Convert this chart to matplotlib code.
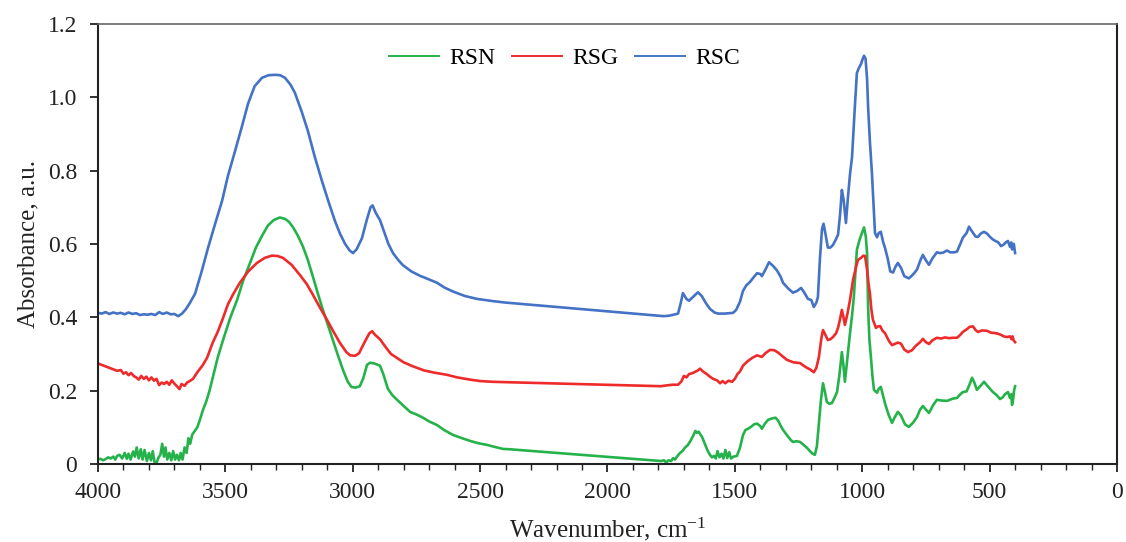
import numpy as np
import matplotlib
matplotlib.use("Agg")
import matplotlib.pyplot as plt
from matplotlib.ticker import MultipleLocator

plt.rcParams['font.family'] = ['Liberation Serif', 'DejaVu Serif']
plt.rcParams['mathtext.fontset'] = 'custom'
plt.rcParams['mathtext.rm'] = 'Liberation Serif'
plt.rcParams['mathtext.it'] = 'Liberation Serif:italic'

# RSC spectrum (wavenumber, absorbance)
rsc_wn = [4000, 3985, 3970, 3955, 3940, 3925, 3910, 3895, 3880, 3865, 3850, 3835, 3820, 3805,
          3790, 3775, 3760, 3745, 3730, 3715, 3700, 3685, 3670, 3655, 3640, 3619, 3595, 3568,
          3540, 3513, 3490, 3462, 3435, 3411, 3385, 3356, 3330, 3305, 3285, 3266, 3245, 3227,
          3200, 3176, 3150, 3121, 3095, 3070, 3050, 3030, 3012, 2999, 2985, 2964, 2945, 2930,
          2922, 2910, 2893, 2875, 2860, 2842, 2820, 2803, 2770, 2736, 2700, 2669, 2640, 2606,
          2560, 2512, 2450, 2400, 1780, 1760, 1740, 1723, 1712, 1704, 1690, 1680, 1665, 1645,
          1630, 1615, 1598, 1580, 1566, 1540, 1507, 1495, 1480, 1468, 1455, 1441, 1425, 1413,
          1400, 1394, 1380, 1366, 1350, 1335, 1320, 1311, 1290, 1272, 1255, 1240, 1228, 1213,
          1200, 1190, 1180, 1174, 1166, 1158, 1152, 1145, 1135, 1125, 1115, 1105, 1095, 1087,
          1080, 1073, 1064, 1056, 1048, 1040, 1029, 1021, 1013, 1005, 998, 993, 987, 981, 977,
          970, 962, 955, 950, 942, 935, 927, 918, 911, 900, 890, 879, 870, 860, 848, 835, 817,
          800, 785, 772, 762, 750, 738, 725, 707, 695, 683, 667, 655, 640, 628, 615, 605, 590,
          581, 572, 565, 555, 546, 535, 522, 510, 497, 487, 475, 467, 455, 445, 435, 428, 420,
          415, 412, 405, 400]
rsc_abs = [0.412, 0.410, 0.414, 0.409, 0.413, 0.410, 0.412, 0.408, 0.413, 0.409, 0.411, 0.406,
           0.408, 0.407, 0.409, 0.406, 0.414, 0.409, 0.413, 0.408, 0.409, 0.403, 0.410, 0.422,
           0.438, 0.464, 0.520, 0.589, 0.655, 0.717, 0.785, 0.853, 0.920, 0.982, 1.030, 1.053,
           1.060, 1.061, 1.060, 1.053, 1.035, 1.012, 0.960, 0.908, 0.840, 0.772, 0.715, 0.663,
           0.628, 0.600, 0.582, 0.575, 0.585, 0.615, 0.665, 0.700, 0.705, 0.685, 0.665, 0.630,
           0.600, 0.575, 0.555, 0.542, 0.525, 0.513, 0.503, 0.494, 0.481, 0.470, 0.458, 0.450,
           0.444, 0.440, 0.403, 0.404, 0.407, 0.410, 0.440, 0.466, 0.450, 0.445, 0.455, 0.468,
           0.458, 0.440, 0.423, 0.413, 0.410, 0.410, 0.412, 0.420, 0.442, 0.472, 0.487, 0.496,
           0.510, 0.520, 0.518, 0.512, 0.530, 0.550, 0.540, 0.528, 0.510, 0.494, 0.478, 0.467,
           0.472, 0.480, 0.468, 0.450, 0.447, 0.428, 0.440, 0.455, 0.560, 0.640, 0.655, 0.630,
           0.590, 0.590, 0.597, 0.610, 0.625, 0.680, 0.747, 0.720, 0.657, 0.728, 0.790, 0.837,
           0.974, 1.066, 1.080, 1.090, 1.105, 1.113, 1.105, 1.050, 0.974, 0.880, 0.794, 0.700,
           0.630, 0.618, 0.630, 0.633, 0.605, 0.590, 0.560, 0.525, 0.522, 0.537, 0.548, 0.535,
           0.512, 0.506, 0.517, 0.530, 0.555, 0.570, 0.555, 0.543, 0.560, 0.577, 0.575, 0.576,
           0.582, 0.577, 0.577, 0.579, 0.600, 0.617, 0.630, 0.647, 0.637, 0.630, 0.620, 0.619,
           0.628, 0.633, 0.628, 0.618, 0.612, 0.607, 0.605, 0.594, 0.598, 0.605, 0.608, 0.592,
           0.604, 0.585, 0.600, 0.575]

# RSG spectrum
rsg_wn = [4000, 3985, 3970, 3955, 3940, 3925, 3910, 3900, 3890, 3880, 3870, 3860, 3850, 3840,
          3830, 3820, 3810, 3800, 3790, 3780, 3770, 3760, 3750, 3740, 3730, 3720, 3710, 3700,
          3690, 3680, 3672, 3660, 3650, 3640, 3627, 3610, 3590, 3572, 3550, 3530, 3509, 3490,
          3470, 3443, 3410, 3376, 3345, 3317, 3295, 3274, 3240, 3207, 3180, 3156, 3130, 3101,
          3075, 3050, 3025, 3010, 2990, 2975, 2955, 2935, 2924, 2912, 2893, 2870, 2850, 2826,
          2800, 2763, 2720, 2680, 2630, 2590, 2540, 2500, 2450, 2400, 1790, 1770, 1745, 1723,
          1710, 1700, 1690, 1680, 1665, 1645, 1637, 1625, 1610, 1598, 1585, 1570, 1558, 1548,
          1538, 1525, 1511, 1500, 1490, 1480, 1468, 1450, 1430, 1413, 1394, 1380, 1362, 1345,
          1331, 1310, 1296, 1270, 1244, 1230, 1217, 1205, 1190, 1180, 1170, 1160, 1154, 1145,
          1135, 1125, 1115, 1103, 1095, 1087, 1080, 1073, 1068, 1058, 1048, 1036, 1025, 1017,
          1005, 995, 989, 981, 975, 970, 964, 958, 946, 938, 930, 920, 911, 895, 883, 870, 860,
          848, 835, 820, 805, 790, 773, 762, 750, 738, 725, 707, 690, 675, 660, 645, 628, 615,
          605, 590, 578, 565, 555, 546, 530, 510, 495, 480, 467, 455, 445, 432, 420, 414, 410,
          405, 400]
rsg_abs = [0.274, 0.270, 0.266, 0.262, 0.258, 0.254, 0.256, 0.246, 0.250, 0.242, 0.248, 0.240,
           0.236, 0.230, 0.240, 0.232, 0.238, 0.228, 0.236, 0.227, 0.232, 0.215, 0.222, 0.218,
           0.224, 0.216, 0.228, 0.219, 0.212, 0.204, 0.218, 0.213, 0.222, 0.226, 0.232, 0.250,
           0.268, 0.289, 0.330, 0.360, 0.398, 0.435, 0.462, 0.494, 0.525, 0.548, 0.562, 0.568,
           0.567, 0.562, 0.543, 0.515, 0.490, 0.461, 0.428, 0.393, 0.360, 0.330, 0.305, 0.296,
           0.295, 0.302, 0.330, 0.356, 0.362, 0.352, 0.340, 0.318, 0.300, 0.289, 0.277, 0.266,
           0.255, 0.249, 0.243, 0.236, 0.230, 0.226, 0.224, 0.223, 0.212, 0.214, 0.216, 0.216,
           0.225, 0.240, 0.236, 0.245, 0.248, 0.255, 0.260, 0.252, 0.245, 0.238, 0.232, 0.228,
           0.220, 0.226, 0.220, 0.227, 0.224, 0.232, 0.245, 0.252, 0.268, 0.280, 0.290, 0.296,
           0.292, 0.302, 0.311, 0.310, 0.304, 0.292, 0.284, 0.277, 0.275, 0.268, 0.262, 0.258,
           0.250, 0.262, 0.292, 0.345, 0.365, 0.352, 0.338, 0.340, 0.346, 0.356, 0.371, 0.395,
           0.420, 0.398, 0.379, 0.410, 0.447, 0.502, 0.535, 0.556, 0.562, 0.568, 0.567, 0.530,
           0.490, 0.466, 0.420, 0.393, 0.371, 0.375, 0.376, 0.363, 0.357, 0.335, 0.324, 0.328,
           0.331, 0.328, 0.312, 0.305, 0.310, 0.322, 0.332, 0.341, 0.332, 0.327, 0.337, 0.344,
           0.342, 0.345, 0.343, 0.344, 0.344, 0.352, 0.360, 0.367, 0.374, 0.375, 0.365, 0.360,
           0.364, 0.363, 0.358, 0.357, 0.355, 0.352, 0.348, 0.346, 0.348, 0.340, 0.348, 0.336,
           0.332]

# RSN spectrum
rsn_wn = [4000, 3990, 3980, 3970, 3960, 3950, 3940, 3932, 3925, 3915, 3905, 3895, 3887, 3880,
          3872, 3862, 3855, 3848, 3840, 3832, 3825, 3817, 3808, 3800, 3792, 3785, 3778, 3770,
          3762, 3755, 3748, 3741, 3735, 3728, 3720, 3712, 3705, 3697, 3690, 3682, 3675, 3668,
          3660, 3652, 3645, 3638, 3630, 3620, 3610, 3600, 3588, 3575, 3562, 3549, 3530, 3509,
          3480, 3454, 3430, 3403, 3380, 3356, 3333, 3310, 3286, 3265, 3250, 3235, 3215, 3195,
          3176, 3156, 3137, 3117, 3098, 3078, 3058, 3038, 3020, 3005, 2990, 2972, 2958, 2944,
          2932, 2915, 2893, 2880, 2862, 2845, 2826, 2800, 2775, 2750, 2724, 2700, 2669, 2640,
          2606, 2570, 2540, 2510, 2473, 2440, 2410, 2383, 1790, 1778, 1770, 1760, 1750, 1742,
          1735, 1725, 1715, 1705, 1695, 1684, 1675, 1665, 1655, 1649, 1642, 1635, 1629, 1618,
          1608, 1598, 1590, 1582, 1575, 1568, 1560, 1552, 1545, 1537, 1530, 1522, 1515, 1505,
          1492, 1480, 1468, 1458, 1448, 1435, 1425, 1413, 1400, 1394, 1382, 1370, 1355, 1340,
          1330, 1320, 1311, 1295, 1280, 1272, 1258, 1244, 1230, 1217, 1205, 1195, 1186, 1178,
          1170, 1162, 1154, 1146, 1139, 1129, 1119, 1109, 1099, 1090, 1080, 1074, 1068, 1058,
          1048, 1040, 1033, 1027, 1021, 1011, 1001, 993, 986, 981, 977, 972, 966, 960, 954, 942,
          935, 927, 918, 911, 897, 883, 872, 860, 848, 832, 817, 800, 785, 773, 762, 750, 738,
          722, 707, 690, 667, 645, 628, 615, 605, 590, 578, 569, 560, 550, 537, 522, 505, 487,
          473, 459, 448, 440, 428, 420, 415, 412, 408, 404, 400]
rsn_abs = [0.012, 0.014, 0.010, 0.013, 0.018, 0.015, 0.020, 0.012, 0.022, 0.025, 0.015, 0.030,
           0.014, 0.028, 0.012, 0.034, 0.020, 0.045, 0.015, 0.040, 0.012, 0.038, 0.008, 0.030,
           0.010, 0.035, 0.005, 0.003, 0.018, 0.025, 0.055, 0.020, 0.045, 0.012, 0.030, 0.010,
           0.035, 0.012, 0.025, 0.010, 0.030, 0.012, 0.045, 0.030, 0.070, 0.055, 0.080, 0.090,
           0.100, 0.120, 0.147, 0.170, 0.200, 0.237, 0.290, 0.338, 0.400, 0.447, 0.500, 0.548,
           0.590, 0.622, 0.650, 0.665, 0.672, 0.668, 0.660, 0.646, 0.622, 0.592, 0.556, 0.510,
           0.465, 0.420, 0.380, 0.338, 0.296, 0.256, 0.225, 0.210, 0.208, 0.212, 0.235, 0.270,
           0.276, 0.274, 0.268, 0.245, 0.205, 0.188, 0.175, 0.158, 0.142, 0.135, 0.126, 0.116,
           0.106, 0.092, 0.079, 0.070, 0.063, 0.057, 0.052, 0.046, 0.041, 0.040, 0.008, 0.010,
           0.004, 0.010, 0.008, 0.016, 0.012, 0.022, 0.030, 0.036, 0.045, 0.052, 0.062, 0.075,
           0.090, 0.085, 0.088, 0.080, 0.074, 0.055, 0.038, 0.025, 0.018, 0.022, 0.015, 0.035,
           0.018, 0.028, 0.015, 0.038, 0.016, 0.032, 0.015, 0.020, 0.022, 0.044, 0.079, 0.093,
           0.096, 0.102, 0.108, 0.110, 0.103, 0.096, 0.110, 0.120, 0.124, 0.126, 0.118, 0.104,
           0.093, 0.078, 0.065, 0.060, 0.062, 0.060, 0.052, 0.044, 0.035, 0.028, 0.025, 0.048,
           0.110, 0.175, 0.220, 0.195, 0.169, 0.164, 0.166, 0.180, 0.196, 0.240, 0.305, 0.270,
           0.224, 0.290, 0.357, 0.405, 0.455, 0.520, 0.584, 0.610, 0.630, 0.645, 0.620, 0.575,
           0.428, 0.340, 0.292, 0.240, 0.202, 0.194, 0.205, 0.210, 0.185, 0.166, 0.135, 0.112,
           0.128, 0.142, 0.132, 0.108, 0.101, 0.113, 0.128, 0.148, 0.158, 0.148, 0.139, 0.160,
           0.175, 0.173, 0.172, 0.178, 0.180, 0.190, 0.196, 0.198, 0.218, 0.235, 0.222, 0.202,
           0.212, 0.224, 0.210, 0.196, 0.188, 0.177, 0.182, 0.190, 0.196, 0.180, 0.190, 0.161,
           0.175, 0.200, 0.212]

series_names = ["RSN", "RSG", "RSC"]
series_colors = ["#25B24B", "#EE2A2A", "#4472C4"]
y_tick_values = [0, 0.2, 0.4, 0.6, 0.8, 1.0, 1.2]
y_tick_labels = ["0", "0.2", "0.4", "0.6", "0.8", "1.0", "1.2"]

fig = plt.figure(figsize=(11.26, 5.42), dpi=100)
ax = fig.add_axes([0.087, 0.144, 0.905, 0.812])

for name, color, wn, ab in zip(series_names, series_colors,
                               [rsn_wn, rsg_wn, rsc_wn], [rsn_abs, rsg_abs, rsc_abs]):
    ax.plot(wn, ab, color=color, lw=1.9, label=name, solid_joinstyle='round')

ax.set_xlim(4000, 0)
ax.set_ylim(0, 1.2)
ax.xaxis.set_major_locator(MultipleLocator(500))
ax.xaxis.set_minor_locator(MultipleLocator(100))
ax.set_yticks(y_tick_values)
ax.set_yticklabels(y_tick_labels)

ax.tick_params(axis='both', which='major', direction='out', length=6, width=1.3,
               labelsize=17, colors='#222222')
ax.tick_params(axis='x', which='major', pad=7)
ax.tick_params(axis='y', which='major', pad=9)
ax.tick_params(axis='x', which='minor', direction='out', length=4, width=1.0, colors='#222222')
for side in ['left', 'bottom', 'right']:
    ax.spines[side].set_color('#222222')
    ax.spines[side].set_linewidth(1.5)
ax.spines['top'].set_color('#666666')
ax.spines['top'].set_linewidth(1.2)

ax.set_ylabel("Absorbance, a.u.", fontsize=18, color='#222222', labelpad=6)
ax.set_xlabel(r"Wavenumber, cm$^{\mathrm{-1}}$", fontsize=18, color='#222222', labelpad=9)

leg = ax.legend(loc='upper center', bbox_to_anchor=(0.458, 0.995), ncol=3, frameon=False,
                fontsize=17, handlelength=2.1, columnspacing=0.7, handletextpad=0.45)
for line in leg.get_lines():
    line.set_linewidth(1.4)

fig.savefig("out.png", dpi=100)
